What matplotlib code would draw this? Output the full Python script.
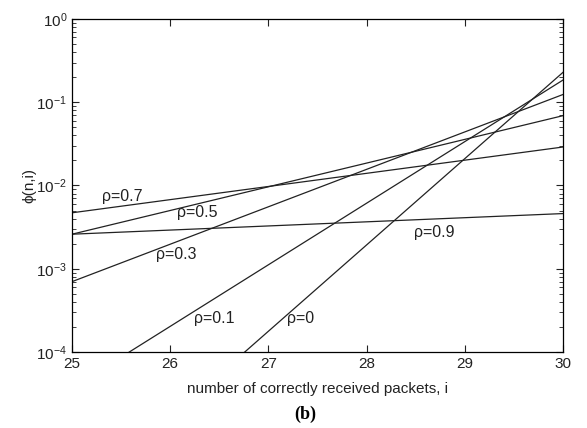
import matplotlib.pyplot as plt
from matplotlib.ticker import LogLocator, NullFormatter

plt.rcParams['font.family'] = ['Liberation Sans', 'DejaVu Sans']
plt.rcParams['mathtext.fontset'] = 'custom'
plt.rcParams['mathtext.rm'] = 'Liberation Sans'
plt.rcParams['mathtext.it'] = 'Liberation Sans'

# valeurs (extremites des droites, i = 25 et i = 30)
i_range = [25, 30]
rho_labels = ['ρ=0', 'ρ=0.1', 'ρ=0.3', 'ρ=0.5', 'ρ=0.7', 'ρ=0.9']
phi_start = [1.5e-6, 3.7e-5, 7.0e-4, 2.6e-3, 4.7e-3, 2.6e-3]
phi_end = [0.229, 0.185, 0.124, 0.069, 0.029, 4.6e-3]

# position des etiquettes
label_x = [27.33, 26.45, 26.06, 26.28, 25.51, 28.69]
label_y = [2.56e-4, 2.56e-4, 1.5e-3, 4.8e-3, 7.3e-3, 2.7e-3]

fig = plt.figure(figsize=(5.87, 4.28), dpi=100)
ax = fig.add_axes([0.1227, 0.1776, 0.8365, 0.778])

for p0, p1 in zip(phi_start, phi_end):
    ax.plot(i_range, [p0, p1], color='#222222', lw=0.9)

for lab, lx, ly in zip(rho_labels, label_x, label_y):
    ax.text(lx, ly, lab, fontsize=11.5, ha='center', va='center', color='#222222')

ax.set_yscale('log')
ax.set_xlim(25, 30)
ax.set_ylim(1e-4, 1)
ax.set_xticks([25, 26, 27, 28, 29, 30])
ax.yaxis.set_major_locator(LogLocator(base=10, numticks=10))
ax.yaxis.set_minor_locator(LogLocator(base=10, subs=range(2, 10), numticks=10))
ax.yaxis.set_minor_formatter(NullFormatter())
ax.tick_params(which='both', direction='in', top=True, right=True, labelsize=11,
               colors='#222222')
ax.tick_params(which='major', length=5)
ax.tick_params(which='minor', length=3)
for s in ax.spines.values():
    s.set_linewidth(0.9)

ax.set_xlabel('number of correctly received packets, i', fontsize=11, color='#222222', labelpad=8)
ax.set_ylabel('ϕ(n,i)', fontsize=11, color='#222222', labelpad=0)

fig.text(0.52, 0.033, '(b)', fontsize=13, fontweight='bold', family='Liberation Serif',
         ha='center', va='center')

fig.savefig('out.png', dpi=100)
